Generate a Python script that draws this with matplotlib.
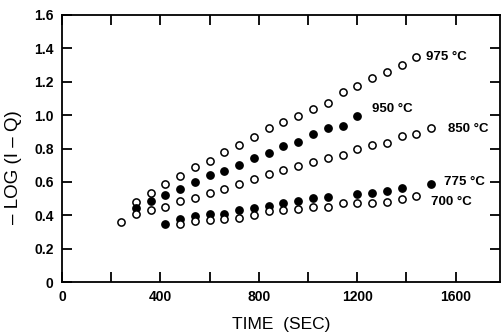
import matplotlib.pyplot as plt
from matplotlib.ticker import FixedLocator, FixedFormatter

# time (sec) and -log(1-Q)
t_975 = [300, 360, 420, 480, 540, 600, 660, 720, 780, 840, 900, 960, 1020, 1080, 1140, 1200, 1260, 1320, 1380, 1440]
y_975 = [0.477, 0.535, 0.585, 0.637, 0.687, 0.727, 0.777, 0.820, 0.870, 0.920, 0.956, 0.994, 1.034, 1.074, 1.136, 1.174, 1.220, 1.259, 1.299, 1.346]

t_950 = [300, 360, 420, 480, 540, 600, 660, 720, 780, 840, 900, 960, 1020, 1080, 1140, 1200]
y_950 = [0.445, 0.487, 0.521, 0.555, 0.601, 0.641, 0.665, 0.700, 0.741, 0.771, 0.814, 0.840, 0.884, 0.924, 0.936, 0.994]

t_850 = [240, 300, 360, 420, 480, 540, 600, 660, 720, 780, 840, 900, 960, 1020, 1080, 1140, 1200, 1260, 1320, 1380, 1440, 1500]
y_850 = [0.357, 0.407, 0.431, 0.451, 0.485, 0.503, 0.535, 0.557, 0.587, 0.617, 0.645, 0.670, 0.693, 0.717, 0.743, 0.760, 0.798, 0.822, 0.835, 0.876, 0.884, 0.920]

t_775 = [420, 480, 540, 600, 660, 720, 780, 840, 900, 960, 1020, 1080, 1200, 1260, 1320, 1380, 1500]
y_775 = [0.345, 0.377, 0.395, 0.407, 0.407, 0.431, 0.445, 0.457, 0.475, 0.485, 0.505, 0.511, 0.525, 0.535, 0.546, 0.561, 0.587]

t_700 = [480, 540, 600, 660, 720, 780, 840, 900, 960, 1020, 1080, 1140, 1200, 1260, 1320, 1380, 1440]
y_700 = [0.345, 0.365, 0.371, 0.375, 0.385, 0.401, 0.425, 0.431, 0.435, 0.451, 0.451, 0.471, 0.475, 0.475, 0.481, 0.497, 0.517]

x_ticks = [0, 400, 800, 1200, 1600]
x_minor = [200, 600, 1000, 1400]
y_ticks = [0, 0.2, 0.4, 0.6, 0.8, 1.0, 1.2, 1.4, 1.6]
y_labels = ["0", "0.2", "0.4", "0.6", "0.8", "1.0", "1.2", "1.4", "1.6"]

series = [
    (t_975, y_975, "white", "975 °C", (1479, 1.347)),
    (t_950, y_950, "black", "950 °C", (1259, 1.036)),
    (t_850, y_850, "white", "850 °C", (1568, 0.916)),
    (t_775, y_775, "black", "775 °C", (1552, 0.600)),
    (t_700, y_700, "white", "700 °C", (1499, 0.479)),
]

plt.rcParams['font.family'] = ['Liberation Sans', 'DejaVu Sans']

fig = plt.figure(figsize=(5.01, 3.35), dpi=100)
ax = fig.add_axes([62 / 501, 1 - 282 / 335, 438 / 501, 267 / 335])

for t, y, face, label, pos in series:
    ax.plot(t, y, linestyle="none", marker="o", markersize=5.2,
            markerfacecolor=face, markeredgecolor="black", markeredgewidth=1.1)
    ax.text(pos[0], pos[1], label, fontsize=9.5, fontweight="bold",
            va="center", ha="left")

ax.set_xlim(0, 1780)
ax.set_ylim(0, 1.6)
ax.xaxis.set_major_locator(FixedLocator(x_ticks))
ax.xaxis.set_minor_locator(FixedLocator(x_minor))
ax.yaxis.set_major_locator(FixedLocator(y_ticks))
ax.yaxis.set_major_formatter(FixedFormatter(y_labels))
ax.tick_params(which="both", direction="in", top=True, right=True,
               length=7, width=1.3, labelsize=10, pad=6)
for lab in ax.get_xticklabels() + ax.get_yticklabels():
    lab.set_fontweight("bold")
for s in ax.spines.values():
    s.set_linewidth(1.3)

ax.set_xlabel("TIME  (SEC)", fontsize=12.5, labelpad=9)
ax.set_ylabel("– LOG (I – Q)", fontsize=13.5)
ax.yaxis.set_label_coords(-0.092, 0.43)

fig.savefig("out.png", dpi=100)
